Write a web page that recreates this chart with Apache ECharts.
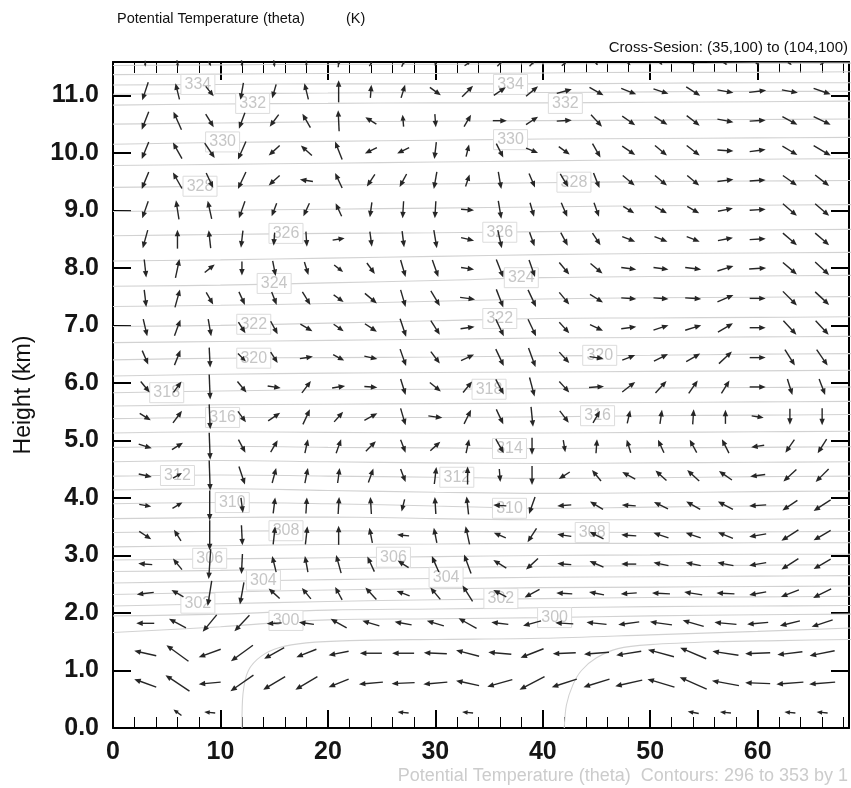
<!DOCTYPE html>
<html>
<head>
<meta charset="utf-8">
<script src="https://cdn.jsdelivr.net/npm/echarts@6/dist/echarts.min.js"></script>
<style>
  html, body { margin: 0; padding: 0; background: #fff; }
  #chart { width: 851px; height: 788px; }
</style>
</head>
<body>
<div id="chart"></div>
<script>
// grid columns (x index along the cross-section) and vector levels (km), top to bottom
var columns = [3, 6, 9, 12, 15, 18, 21, 24, 27, 30, 33, 36, 39, 42, 45, 48, 51, 54, 57, 60, 63, 66];
var heights = [11.55, 11.07, 10.56, 10.04, 9.52, 9.01, 8.50, 7.99, 7.47, 6.96, 6.44, 5.93,
               5.41, 4.90, 4.39, 3.87, 3.35, 2.85, 2.34, 1.82, 1.30, 0.78, 0.27];

// horizontal wind component (arrow length units), one row per level, top to bottom
var uRows = [
  [0, 1, 3, 1, 1, 0, 1, 3, 3, 0, 6, 5, 5, 5, 3, 4, 3, 4, 4, 4, 4, 4],
  [-6, -4, 8, -3, -4, -4, 0, 1, 4, 11, 11, 12, 12, 15, 14, 15, 15, 14, 16, 17, 16, 17],
  [-7, -8, 8, -6, -9, -8, -1, -11, -1, 1, 7, 14, 12, 15, 11, 13, 13, 13, 16, 16, 15, 17],
  [-7, -9, 10, -8, -11, -11, -7, -12, -12, -2, 3, 7, 12, 11, 8, 13, 12, 13, 16, 16, 15, 17],
  [-7, -9, 7, -8, -11, -13, -7, -8, -7, -3, 4, 3, 6, 8, 6, 12, 12, 12, 16, 16, 14, 14],
  [-6, -3, -4, -6, -5, -6, -6, -2, -1, -1, 13, 3, 4, 6, 5, 11, 12, 12, 15, 16, 14, 14],
  [-5, 0, -2, -2, -1, 1, 12, 2, 2, 3, 13, 4, 5, 7, 8, 13, 13, 13, 15, 16, 14, 14],
  [2, 4, 10, 0, 3, 4, 9, 8, 5, 6, 13, 7, 6, 10, 12, 15, 15, 16, 16, 17, 14, 14],
  [2, 5, 7, 6, 5, 8, 10, 12, 5, 9, 15, 7, 8, 10, 13, 15, 15, 16, 16, 16, 14, 14],
  [4, 6, 3, 7, 7, 12, 10, 12, 6, 9, 14, 8, 8, 10, 13, 15, 15, 16, 15, 16, 13, 13],
  [6, 6, 1, 8, 7, 13, 11, 13, 6, 9, 13, 8, 7, 10, 14, 13, 14, 14, 13, 16, 10, 11],
  [9, 8, 1, 9, 13, 9, 13, 13, 5, 11, 9, 8, 5, 10, 15, 13, 11, 9, 8, 16, 5, 6],
  [11, 9, 1, 8, 12, 7, 9, 13, 5, 14, 7, 7, 2, 9, 7, 3, 2, 1, 0, 12, 0, 0],
  [13, 11, 1, 7, 7, 3, 5, 10, 5, 10, 3, 8, 0, 2, 1, -4, -6, -7, -7, -13, -9, -9],
  [13, 9, 1, 6, 4, 3, 2, 5, 5, 2, 0, 1, 0, -11, -9, -13, -11, -12, -13, -15, -13, -13],
  [12, 10, 0, 2, 2, 1, 1, -1, -3, -1, -2, -13, -6, -14, -13, -14, -14, -14, -15, -17, -15, -17],
  [12, -7, 0, 1, 2, 2, 0, -3, -12, -3, -4, -12, -9, -14, -14, -15, -15, -15, -15, -17, -17, -17],
  [-14, -9, -2, -1, -4, -3, -5, -7, -11, -7, -7, -13, -12, -14, -14, -15, -15, -15, -16, -17, -17, -17],
  [-17, -12, -4, -4, -11, -9, -7, -11, -13, -10, -10, -13, -15, -16, -15, -16, -18, -18, -18, -17, -18, -18],
  [-18, -17, -14, -15, -15, -15, -16, -17, -17, -17, -18, -17, -18, -18, -20, -21, -22, -21, -22, -21, -20, -21],
  [-22, -22, -22, -22, -20, -20, -20, -22, -22, -23, -23, -23, -23, -23, -25, -25, -26, -26, -26, -25, -25, -25],
  [-22, -24, -22, -23, -22, -22, -20, -24, -23, -24, -23, -25, -25, -25, -26, -27, -27, -27, -27, -25, -27, -26],
  [0, -8, -11, 0, 0, 0, 0, 0, -11, 0, -11, 0, 0, 0, 0, 0, 0, -11, -11, 0, -11, -11]
];

// vertical wind component (arrow length units, up positive), top to bottom
var wRows = [
  [-6, -7, -5, -7, -7, -6, 7, 5, 6, 4, 4, 5, 5, 4, -3, -3, -2, -2, -2, -1, -2, 2],
  [-18, 16, -10, -17, -14, 16, 22, 13, 13, -8, 11, 8, 10, 4, -8, -6, -5, -9, -3, 2, -3, -6],
  [-18, 18, -13, -16, -12, 14, 21, 7, 12, -13, 12, 0, 8, 1, -12, -9, -8, -10, -3, 1, -8, -8],
  [-17, 16, -15, -18, -10, 10, 18, -6, -6, -17, 12, -14, -5, -8, -14, -9, -10, -10, -1, 2, -9, -10],
  [-17, 16, -15, -17, -10, 2, 15, -12, -13, -17, 12, -17, -14, -13, -15, -10, -10, -10, 2, 1, -10, -11],
  [-17, 19, 18, -17, -13, -13, 13, -15, -17, -17, -1, -18, -14, -14, -14, -7, -7, -7, 3, 1, -12, -12],
  [-18, 19, 18, -17, -13, -15, 2, -15, -16, -18, -3, -18, -14, -13, -12, -5, -5, -5, 3, 1, -12, -12],
  [-18, 19, 8, -14, -15, -13, -7, -11, -17, -17, -2, -18, -17, -12, -10, -2, -2, -2, 5, 1, -12, -13],
  [-17, 18, -12, -13, -13, -13, -7, -10, -17, -15, -2, -18, -17, -12, -8, -1, -1, -1, 7, 0, -14, -13],
  [-17, 16, -17, -11, -13, -7, -7, -8, -18, -14, 2, -17, -17, -11, -6, 2, 5, 5, 9, 0, -14, -14],
  [-14, 15, -20, -8, -11, 2, -6, -3, -17, -12, 6, -17, -19, -11, -2, 5, 7, 8, 12, 0, -16, -16],
  [-11, 11, -25, -11, -2, 12, 2, -1, -16, -9, 11, -15, -19, -11, 1, 10, 12, 13, 13, 0, -16, -16],
  [-7, 12, -25, -11, 8, 15, 10, 7, -17, -2, 14, -15, -20, -12, 12, 13, 14, 15, 14, -2, -16, -17],
  [-4, 7, -27, -13, 12, 14, 14, 10, -13, 9, 14, -14, -17, -12, 14, 13, 13, 13, 14, -2, -13, -14],
  [-3, 5, -30, -18, 15, 15, 15, 14, -13, 17, 18, -13, -19, -7, 11, 7, 10, 11, 9, -2, -12, -13],
  [-2, 6, -30, -15, 16, 16, 17, 17, -12, 17, 18, 1, -17, -1, 8, 1, 7, 8, 8, -1, -10, -11],
  [-8, 11, -30, -20, 18, 18, 19, 15, 1, 15, 18, 5, -14, 2, 7, 1, 5, 5, 6, -3, -11, -10],
  [1, 11, -30, -20, 16, 16, 18, 15, 7, 16, 19, 8, -11, 1, 6, 0, 3, 3, 3, -3, -11, -10],
  [-2, 7, -25, -22, 10, 11, 13, 12, 5, 12, 16, 7, -8, 1, 3, -1, 1, 3, 1, -3, -7, -9],
  [0, 9, -17, -16, -1, 2, 9, 5, 3, 5, 10, 2, -5, 1, 2, -3, 3, 6, 2, -2, -5, -7],
  [5, 16, -8, -16, -11, -8, -4, 0, 0, 1, 6, 2, -9, -1, -2, -4, 7, 11, 4, -1, -3, -5],
  [8, 16, -2, -16, -13, -13, -8, -2, -1, -2, 5, -7, -13, -8, -8, -6, 8, 12, 5, 1, -2, -2],
  [0, 6, 1, 0, 0, 0, 0, 0, 1, 0, 1, 0, 0, 0, 0, 0, 0, 2, 1, 0, 1, 1]
];

// theta contours (K): heights (km) read at these x positions
var contourX = [0, 10, 20, 30, 40, 50, 60, 69];
var contourLevels = [300, 301, 302, 303, 304, 305, 306, 307, 308, 309, 310, 311, 312, 313, 314, 315, 316, 317, 318,
                     319, 320, 321, 322, 323, 324, 325, 326, 327, 328, 329, 330, 331, 332, 333, 334, 335, 336];
var contourHeights = [
  [1.66, 1.76, 1.88, 1.90, 1.92, 1.95, 1.97, 1.98],
  [1.95, 1.98, 2.05, 2.07, 2.09, 2.11, 2.12, 2.13],
  [2.12, 2.16, 2.20, 2.23, 2.25, 2.27, 2.28, 2.29],
  [2.32, 2.36, 2.40, 2.42, 2.44, 2.45, 2.46, 2.47],
  [2.52, 2.55, 2.58, 2.60, 2.62, 2.63, 2.64, 2.65],
  [2.72, 2.74, 2.77, 2.79, 2.81, 2.82, 2.83, 2.84],
  [2.92, 2.94, 2.96, 2.98, 3.00, 3.01, 3.02, 3.02],
  [3.15, 3.17, 3.19, 3.20, 3.21, 3.21, 3.22, 3.22],
  [3.40, 3.42, 3.43, 3.42, 3.41, 3.40, 3.41, 3.42],
  [3.64, 3.66, 3.67, 3.64, 3.62, 3.62, 3.63, 3.64],
  [3.90, 3.92, 3.90, 3.86, 3.82, 3.84, 3.86, 3.87],
  [4.14, 4.16, 4.13, 4.10, 4.08, 4.09, 4.11, 4.12],
  [4.38, 4.40, 4.38, 4.36, 4.34, 4.35, 4.37, 4.38],
  [4.63, 4.65, 4.63, 4.61, 4.60, 4.61, 4.62, 4.63],
  [4.88, 4.90, 4.88, 4.87, 4.86, 4.87, 4.88, 4.89],
  [5.13, 5.15, 5.14, 5.13, 5.13, 5.14, 5.15, 5.16],
  [5.38, 5.40, 5.40, 5.40, 5.41, 5.43, 5.44, 5.45],
  [5.60, 5.62, 5.63, 5.64, 5.65, 5.66, 5.67, 5.68],
  [5.83, 5.86, 5.88, 5.89, 5.90, 5.91, 5.92, 5.93],
  [6.12, 6.15, 6.17, 6.18, 6.19, 6.20, 6.21, 6.22],
  [6.40, 6.43, 6.44, 6.45, 6.47, 6.48, 6.50, 6.51],
  [6.70, 6.72, 6.74, 6.76, 6.78, 6.79, 6.80, 6.81],
  [6.98, 7.00, 7.04, 7.08, 7.12, 7.13, 7.14, 7.15],
  [7.33, 7.35, 7.38, 7.42, 7.46, 7.48, 7.49, 7.50],
  [7.68, 7.70, 7.74, 7.78, 7.83, 7.85, 7.86, 7.87],
  [8.12, 8.14, 8.17, 8.20, 8.23, 8.25, 8.26, 8.27],
  [8.56, 8.58, 8.60, 8.61, 8.63, 8.65, 8.66, 8.67],
  [8.98, 9.00, 9.02, 9.04, 9.06, 9.08, 9.09, 9.10],
  [9.40, 9.42, 9.44, 9.46, 9.48, 9.50, 9.51, 9.52],
  [9.78, 9.80, 9.82, 9.84, 9.86, 9.88, 9.89, 9.90],
  [10.15, 10.18, 10.20, 10.22, 10.24, 10.25, 10.26, 10.27],
  [10.50, 10.52, 10.54, 10.55, 10.56, 10.57, 10.58, 10.59],
  [10.83, 10.85, 10.86, 10.87, 10.87, 10.88, 10.89, 10.90],
  [11.02, 11.03, 11.04, 11.05, 11.05, 11.06, 11.07, 11.07],
  [11.18, 11.19, 11.20, 11.20, 11.20, 11.21, 11.22, 11.22],
  [11.36, 11.37, 11.38, 11.38, 11.39, 11.40, 11.40, 11.41],
  [11.52, 11.53, 11.54, 11.54, 11.55, 11.55, 11.56, 11.56]
];
// the two cool-pool contours near the ground
var contour299X = [12.0, 12.1, 12.6, 13.8, 15.5, 18, 22, 30, 40, 50, 60, 69];
var contour299H = [0, 0.6, 1.0, 1.25, 1.40, 1.48, 1.52, 1.54, 1.56, 1.62, 1.68, 1.74];
var contour298X = [42.0, 42.2, 42.8, 43.6, 45.0, 47.0, 50, 56, 62, 69];
var contour298H = [0, 0.4, 0.75, 1.0, 1.22, 1.38, 1.45, 1.50, 1.52, 1.54];

// contour labels
var labelLevels = [334, 334, 332, 332, 330, 330, 328, 328, 326, 326, 324, 324, 322, 322, 320, 320, 318, 318,
                   316, 316, 314, 312, 312, 310, 310, 308, 308, 306, 306, 304, 304, 302, 302, 300, 300];
var labelX = [7.9, 37.0, 13.0, 42.1, 10.2, 37.0, 8.1, 42.9, 16.1, 36.0, 15.0, 38.0, 13.1, 36.0, 13.1, 45.3, 5.0, 35.0,
              10.2, 45.1, 36.9, 6.0, 32.0, 11.1, 36.9, 16.1, 44.6, 9.0, 26.1, 14.0, 31.0, 7.9, 36.1, 16.1, 41.1];
var labelY = [11.19, 11.19, 10.86, 10.86, 10.19, 10.23, 9.42, 9.49, 8.60, 8.62, 7.73, 7.83, 7.02, 7.12, 6.43, 6.48, 5.83, 5.89,
              5.40, 5.43, 4.86, 4.39, 4.36, 3.92, 3.82, 3.43, 3.40, 2.95, 2.97, 2.57, 2.62, 2.17, 2.25, 1.87, 1.92];

var xMax = 68.5;
var yMax = 11.58;
var FONT = 'Liberation Sans, Arial, Helvetica, sans-serif';

var vectorData = [];
heights.forEach(function (h, r) {
  columns.forEach(function (x, c) {
    vectorData.push([x, h, uRows[r][c], wRows[r][c]]);
  });
});

function renderArrow(params, api) {
  var u = api.value(2), w = api.value(3);
  var len = Math.sqrt(u * u + w * w);
  if (len < 0.5) return null;
  var c = api.coord([api.value(0), api.value(1)]);
  var ex = u / len, ey = -w / len;
  var hx = c[0] + u / 2, hy = c[1] - w / 2;
  var tx = c[0] - u / 2, ty = c[1] + w / 2;
  var hl = Math.min(6.5, len * 0.5), hw = hl * 0.42;
  var bx = hx - ex * hl, by = hy - ey * hl;
  return {
    type: 'group',
    children: [
      { type: 'line', shape: { x1: tx, y1: ty, x2: bx + ex, y2: by + ey },
        style: { stroke: '#262626', lineWidth: 1.4 } },
      { type: 'polygon', shape: { points: [[hx, hy], [bx - ey * hw, by + ex * hw], [bx + ey * hw, by - ex * hw]] },
        style: { fill: '#262626' } }
    ]
  };
}

function renderLabel(params, api) {
  var c = api.coord([api.value(0), api.value(1)]);
  return {
    type: 'group',
    children: [
      { type: 'rect', shape: { x: c[0] - 17, y: c[1] - 10, width: 34, height: 20 },
        style: { fill: '#fff', stroke: '#dcdcdc', lineWidth: 1 } },
      { type: 'text', x: c[0], y: c[1],
        style: { text: String(api.value(2)), align: 'center', verticalAlign: 'middle',
                 font: '16px ' + FONT, fill: '#c6c6c6' } }
    ]
  };
}

var series = [];
contourLevels.forEach(function (lev, i) {
  series.push({
    type: 'line', name: 'theta ' + lev, silent: true, smooth: 0.4, symbol: 'none', z: 1,
    lineStyle: { color: '#d2d2d2', width: 1.1 },
    data: contourX.map(function (x, k) { return [x, contourHeights[i][k]]; })
  });
});
series.push({
  type: 'line', name: 'theta 299', silent: true, smooth: 0.3, symbol: 'none', z: 1,
  lineStyle: { color: '#d2d2d2', width: 1.1 },
  data: contour299X.map(function (x, k) { return [x, contour299H[k]]; })
});
series.push({
  type: 'line', name: 'theta 298', silent: true, smooth: 0.3, symbol: 'none', z: 1,
  lineStyle: { color: '#d2d2d2', width: 1.1 },
  data: contour298X.map(function (x, k) { return [x, contour298H[k]]; })
});
series.push({
  type: 'custom', name: 'labels', silent: true, z: 3, renderItem: renderLabel,
  data: labelLevels.map(function (lev, i) { return [labelX[i], labelY[i], lev]; })
});
series.push({
  type: 'custom', name: 'wind', silent: true, z: 5, renderItem: renderArrow,
  data: vectorData
});

function xAxisDef(pos, showLabel) {
  return {
    type: 'value', position: pos, min: 0, max: xMax, interval: 10,
    axisLine: { show: true, onZero: false, lineStyle: { color: '#000', width: 2 } },
    axisTick: { show: true, inside: true, length: 18, lineStyle: { color: '#000', width: 2 } },
    minorTick: { show: true, splitNumber: 5, length: 11, lineStyle: { color: '#000', width: 1 } },
    axisLabel: { show: showLabel, fontSize: 25, fontWeight: 'bold', color: '#151515', margin: 12,
                 fontFamily: FONT, showMaxLabel: false },
    splitLine: { show: false }, minorSplitLine: { show: false }
  };
}
function yAxisDef(pos, showLabel) {
  return {
    type: 'value', position: pos, min: 0, max: yMax, interval: 1,
    name: showLabel ? 'Height (km)' : '', nameLocation: 'middle', nameGap: 78, nameRotate: 90,
    nameTextStyle: { fontSize: 23, color: '#111', fontFamily: FONT },
    axisLine: { show: true, onZero: false, lineStyle: { color: '#000', width: 2 } },
    axisTick: { show: true, inside: true, length: 18, lineStyle: { color: '#000', width: 2 } },
    axisLabel: { show: showLabel, fontSize: 25, fontWeight: 'bold', color: '#151515', margin: 14, fontFamily: FONT,
                 showMaxLabel: false, formatter: function (v) { return v.toFixed(1); } },
    splitLine: { show: false }
  };
}

var chart = echarts.init(document.getElementById('chart'));
chart.setOption({
  animation: false,
  backgroundColor: '#fff',
  grid: { left: 113, right: 2, top: 62, bottom: 60 },
  xAxis: [xAxisDef('bottom', true), xAxisDef('top', false)],
  yAxis: [yAxisDef('left', true), yAxisDef('right', false)],
  graphic: [
    { type: 'text', left: 117, top: 11, style: { text: 'Potential Temperature (theta)', font: '14.5px ' + FONT, fill: '#111' } },
    { type: 'text', left: 346, top: 11, style: { text: '(K)', font: '14.5px ' + FONT, fill: '#111' } },
    { type: 'text', right: 3, top: 40, style: { text: 'Cross-Sesion: (35,100) to (104,100)', font: '15px ' + FONT, fill: '#111' } },
    { type: 'text', right: 3, top: 767, style: { text: 'Potential Temperature (theta)  Contours: 296 to 353 by 1', font: '18px ' + FONT, fill: '#cccccc' } }
  ],
  series: series
});
</script>
</body>
</html>
